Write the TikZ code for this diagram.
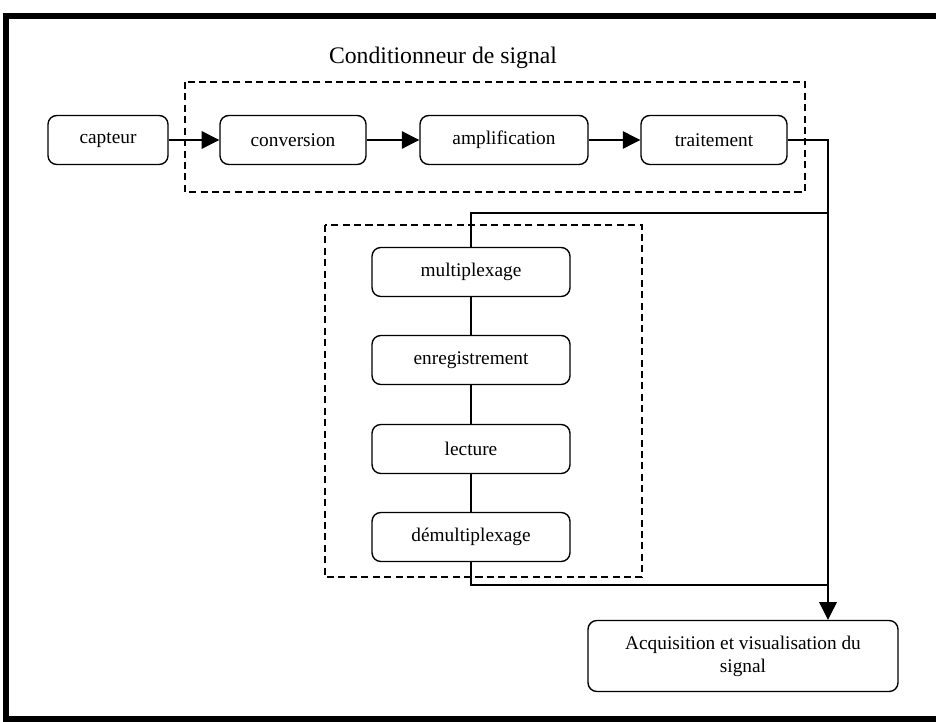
\documentclass[tikz,border=0pt]{standalone}
\usepackage{fontspec}
\setmainfont{Liberation Serif}
\usetikzlibrary{arrows.meta}

\begin{document}
\begin{tikzpicture}[x=0.02cm,y=-0.02cm,
		block/.style={draw,line width=0.8pt,rounded corners=5pt,minimum height=0.98cm,font=\fontsize{11}{13}\selectfont},
		frame/.style={draw,dash pattern=on 4pt off 2.5pt,line width=0.7pt},
		link/.style={line width=0.6pt},
		arr/.style={link,-{Triangle[length=10pt,width=10pt]}}]

		\useasboundingbox (0,0) rectangle (936,722);
		\clip (0,0) rectangle (936,722);
		\draw [line width=3.6pt] (6,16) rectangle (960,719);

		\node (title) at (443,58) {\fontsize{13.5}{15}\selectfont Conditionneur de signal};
		\draw [frame] (185,82) rectangle (805,192);
		\draw [frame] (325,225) rectangle (642,577);

		\node (capt) at (108,140) [block,minimum width=2.4cm] {capteur};
		\node (conv) at (293,140) [block,minimum width=2.92cm] {conversion};
		\node (ampl) at (504,140) [block,minimum width=3.36cm] {amplification};
		\node (trait) at (714,140) [block,minimum width=2.92cm] {traitement};

		\node (mux) at (471,272) [block,minimum width=3.96cm] {multiplexage};
		\node (enreg) at (471,360) [block,minimum width=3.96cm] {enregistrement};
		\node (lect) at (471,449) [block,minimum width=3.96cm] {lecture};
		\node (demux) at (471,537) [block,minimum width=3.96cm] {démultiplexage};

		\node (acq) at (743,656) [block,minimum width=6.2cm,minimum height=1.42cm,align=center]
		{Acquisition et visualisation du\\signal};

		\coordinate (jx) at (828,140);
		\coordinate (jtop) at (828,213);
		\coordinate (jbot) at (828,585);

		\draw [arr] (capt) -- (conv);
		\draw [arr] (conv) -- (ampl);
		\draw [arr] (ampl) -- (trait);
		\draw [arr] (trait.east) -- (jx) -- (jx |- acq.north);

		\draw [link] (mux.north) |- (jtop);
		\draw [link] (mux) -- (enreg);
		\draw [link] (enreg) -- (lect);
		\draw [link] (lect) -- (demux);
		\draw [link] (demux.south) |- (jbot);

\end{tikzpicture}
\end{document}
